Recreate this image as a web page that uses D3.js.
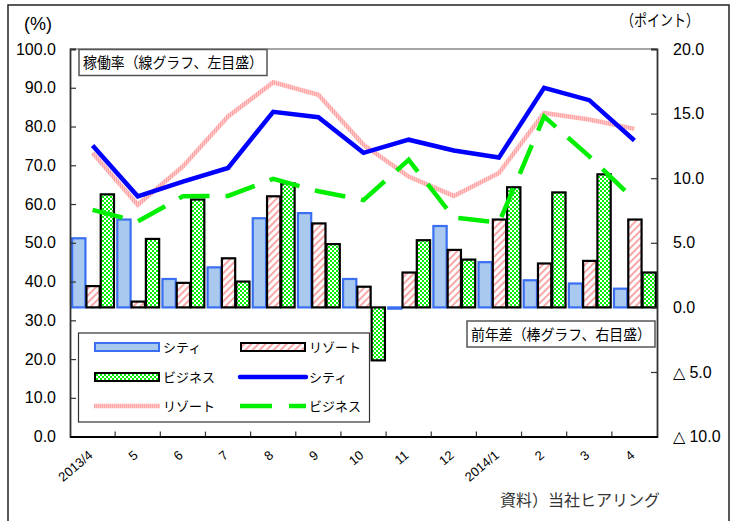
<!DOCTYPE html>
<html><head><meta charset="utf-8">
<script src="https://cdn.jsdelivr.net/npm/d3@7"></script>
<style>
body{margin:0;background:#fff;}
svg{display:block;}
</style></head>
<body>
<script>
const categories = ["2013/4","5","6","7","8","9","10","11","12","2014/1","2","3","4"];
const barCity     = [5.35,6.8,2.2,3.1,6.9,7.3,2.2,-0.1,6.3,3.5,2.1,1.85,1.45];
const barResort   = [1.65,0.45,1.9,3.8,8.6,6.5,1.6,2.7,4.45,6.8,3.4,3.6,6.8];
const barBusiness = [8.75,5.3,8.35,2.0,9.6,4.9,-4.1,5.2,3.7,9.3,8.9,10.3,2.7];
const lineCity     = [75.1,62.0,65.8,69.3,83.8,82.4,73.2,76.6,73.8,72.0,90.0,86.8,76.4];
const lineResort   = [73.2,59.8,69.7,82.6,91.4,88.2,75.3,67.1,62.1,68.0,83.5,81.8,79.4];
const lineBusiness = [58.5,55.5,62.0,62.1,66.5,63.3,61.0,71.4,56.5,55.2,82.6,72.3,61.1];
const leftTicks  = [0,10,20,30,40,50,60,70,80,90,100];
const rightTicks = [-10,-5,0,5,10,15,20];
const barSeries = ["シティ","リゾート","ビジネス"];

const W=737,H=521;
const L=70,R=657,T=49,B=436.6;
const svg=d3.select("body").append("svg").attr("width",W).attr("height",H);
const defs=svg.append("defs");
const ph=defs.append("pattern").attr("id","hatch").attr("patternUnits","userSpaceOnUse")
 .attr("width",5).attr("height",5).attr("patternTransform","rotate(45)");
ph.append("rect").attr("width",5).attr("height",5).attr("fill","#fff");
ph.append("rect").attr("x",0).attr("width",2).attr("height",5).attr("fill","#f7a8a8");
const pc=defs.append("pattern").attr("id","checker").attr("patternUnits","userSpaceOnUse")
 .attr("width",4).attr("height",4);
pc.append("rect").attr("width",4).attr("height",4).attr("fill","#00ee00");
pc.append("rect").attr("x",0).attr("y",0).attr("width",2).attr("height",2).attr("fill","#fff");
pc.append("rect").attr("x",2).attr("y",2).attr("width",2).attr("height",2).attr("fill","#fff");
const ps=defs.append("pattern").attr("id","pinkstripe").attr("patternUnits","userSpaceOnUse")
 .attr("width",2).attr("height",2);
ps.append("rect").attr("width",2).attr("height",2).attr("fill","#ffc8c8");
ps.append("rect").attr("width",1).attr("height",2).attr("fill","#ffa4a4");

svg.append("rect").attr("x",8).attr("y",5).attr("width",721).attr("height",530)
 .attr("fill","none").attr("stroke","#222").attr("stroke-width",1.5);

const x=d3.scaleBand().domain(categories).range([L,R]).paddingInner(0).paddingOuter(0);
const xs=d3.scaleBand().domain(barSeries).range([0,x.bandwidth()]).paddingOuter(0.08).paddingInner(0);
const yL=d3.scaleLinear().domain([0,100]).range([B,T]);
const yR=d3.scaleLinear().domain([-10,20]).range([B,T]);

const jp='"Noto Sans CJK JP","Noto Sans",sans-serif';
const lat='"Liberation Sans",Arial,sans-serif';

svg.append("line").attr("x1",L).attr("x2",R).attr("y1",T).attr("y2",T).attr("stroke","#888").attr("stroke-width",1.5);

const barData=categories.map((c,i)=>({c,vals:[barCity[i],barResort[i],barBusiness[i]]}));
const styles=[
 {fill:"#a9c9ef",stroke:"#3a6ff2"},
 {fill:"url(#hatch)",stroke:"#000"},
 {fill:"url(#checker)",stroke:"#000"}];
const g=svg.append("g");
barData.forEach(d=>{
  d.vals.forEach((v,k)=>{
    const y0=yR(0),y1=yR(v);
    g.append("rect").attr("x",x(d.c)+xs(barSeries[k])+1).attr("width",xs.bandwidth()-1)
     .attr("y",Math.min(y0,y1)).attr("height",Math.max(Math.abs(y1-y0),0.5))
     .attr("fill",styles[k].fill).attr("stroke",styles[k].stroke).attr("stroke-width",2.2);
  });
});

const cx=c=>x(c)+x.bandwidth()/2;
const line=d3.line().x((d,i)=>cx(categories[i])).y(d=>yL(d));
svg.append("path").datum(lineResort).attr("d",line).attr("fill","none")
 .attr("stroke","url(#pinkstripe)").attr("stroke-width",4.5).attr("stroke-linejoin","miter");
svg.append("path").datum(lineCity).attr("d",line).attr("fill","none")
 .attr("stroke","#0000ff").attr("stroke-width",4.5).attr("stroke-linejoin","miter");
svg.append("path").datum(lineBusiness).attr("d",line).attr("fill","none")
 .attr("stroke","#00ee00").attr("stroke-width",4.5).attr("stroke-dasharray","31,16");

const axL=d3.axisLeft(yL).tickValues(leftTicks).tickSize(-6).tickPadding(14).tickFormat(d3.format(".1f"));
const gl=svg.append("g").attr("transform",`translate(${L},0)`).call(axL);
gl.select(".domain").attr("stroke","#333").attr("stroke-width",1.8);
gl.selectAll(".tick line").attr("stroke","#333").attr("stroke-width",1.2);
gl.selectAll("text").attr("font-family",lat).attr("font-size",16).attr("fill","#000");

const axR=d3.axisRight(yR).tickValues(rightTicks).tickSize(-6).tickPadding(16)
 .tickFormat(v=>v<0?"△ "+Math.abs(v).toFixed(1):v.toFixed(1));
const gr=svg.append("g").attr("transform",`translate(${R},0)`).call(axR);
gr.select(".domain").attr("stroke","#333").attr("stroke-width",1.8);
gr.selectAll(".tick line").attr("stroke","#333").attr("stroke-width",1.2);
gr.selectAll("text").attr("font-family",lat).attr("font-size",16).attr("fill","#000");

const axB=d3.axisBottom(x).tickSize(0).tickFormat("");
const gb=svg.append("g").attr("transform",`translate(0,${B})`).call(axB);
gb.select(".domain").attr("stroke","#000").attr("stroke-width",2);
categories.slice(1).forEach(c=>{
  svg.append("line").attr("x1",x(c)).attr("x2",x(c)).attr("y1",B).attr("y2",B-5).attr("stroke","#333").attr("stroke-width",1.2);
});
categories.forEach(c=>{
  svg.append("text").attr("transform",`translate(${cx(c)+1},${B+20}) rotate(-40)`)
   .attr("text-anchor","end").attr("font-family",lat).attr("font-size",13).text(c);
});

svg.append("text").attr("x",24).attr("y",30).attr("font-family",lat).attr("font-size",18).text("(%)");
svg.append("text").attr("x",621).attr("y",26).attr("font-family",jp).attr("font-size",16)
 .attr("textLength",78).attr("lengthAdjust","spacingAndGlyphs").text("（ポイント）");

function box(x0,y0,w,h,txt){
  svg.append("rect").attr("x",x0).attr("y",y0).attr("width",w).attr("height",h)
   .attr("fill","#fff").attr("stroke","#555").attr("stroke-width",1.5);
  svg.append("text").attr("x",x0+4).attr("y",y0+h/2+5.5).attr("font-family",jp).attr("font-size",15)
   .attr("textLength",w-8).attr("lengthAdjust","spacingAndGlyphs").text(txt);
}
box(79,49.5,188,26,"稼働率（線グラフ、左目盛）");
box(467,321,188,26,"前年差（棒グラフ、右目盛）");

const lg=svg.append("g");
lg.append("rect").attr("x",78.5).attr("y",333).attr("width",291).attr("height",89)
 .attr("fill","#fff").attr("stroke","#333").attr("stroke-width",1.2);
const legendItems=[
 {type:"bar",k:0,label:"シティ",x:94,y:347},
 {type:"bar",k:1,label:"リゾート",x:240,y:347},
 {type:"bar",k:2,label:"ビジネス",x:94,y:377},
 {type:"line",color:"#0000ff",label:"シティ",x:240,y:377},
 {type:"line",color:"url(#pinkstripe)",label:"リゾート",x:94,y:406},
 {type:"line",color:"#00ee00",dash:"32,17",label:"ビジネス",x:240,y:406}];
legendItems.forEach(it=>{
  if(it.type==="bar"){
    lg.append("rect").attr("x",it.x+1).attr("y",it.y-4).attr("width",64).attr("height",8)
     .attr("fill",styles[it.k].fill).attr("stroke",styles[it.k].stroke).attr("stroke-width",2);
  }else{
    lg.append("line").attr("x1",it.x).attr("x2",it.x+66).attr("y1",it.y).attr("y2",it.y)
     .attr("stroke",it.color).attr("stroke-width",4.5).attr("stroke-dasharray",it.dash||null)
     .attr("stroke-linecap",it.color==="#0000ff"?"round":"butt");
  }
  lg.append("text").attr("x",it.x+69).attr("y",it.y+5).attr("font-family",jp).attr("font-size",13).text(it.label);
});

svg.append("text").attr("x",660).attr("y",506).attr("text-anchor","end").attr("font-family",jp)
 .attr("font-size",16).attr("fill","#333").text("資料）当社ヒアリング");
</script>
</body></html>
